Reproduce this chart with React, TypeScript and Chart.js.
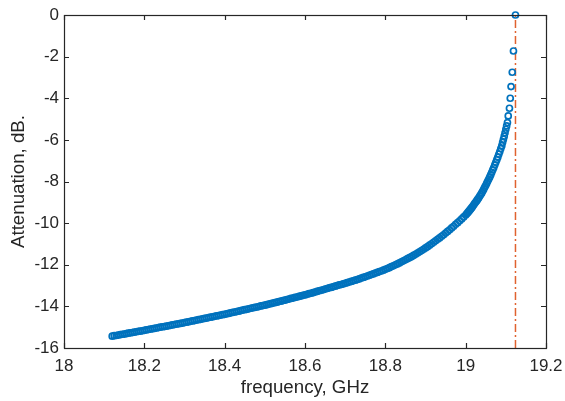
import { useEffect, useRef } from "react";
import { Chart, registerables } from "chart.js";

Chart.register(...registerables);

// frequency samples, GHz
const freqGHz = [
  18.120, 18.125, 18.130, 18.135, 18.140, 18.145, 18.150, 18.155, 18.160, 18.165,
  18.170, 18.175, 18.180, 18.185, 18.190, 18.195, 18.200, 18.205, 18.210, 18.215,
  18.220, 18.225, 18.230, 18.235, 18.240, 18.245, 18.250, 18.255, 18.260, 18.265,
  18.270, 18.275, 18.280, 18.285, 18.290, 18.295, 18.300, 18.305, 18.310, 18.315,
  18.320, 18.325, 18.330, 18.335, 18.340, 18.345, 18.350, 18.355, 18.360, 18.365,
  18.370, 18.375, 18.380, 18.385, 18.390, 18.395, 18.400, 18.405, 18.410, 18.415,
  18.420, 18.425, 18.430, 18.435, 18.440, 18.445, 18.450, 18.455, 18.460, 18.465,
  18.470, 18.475, 18.480, 18.485, 18.490, 18.495, 18.500, 18.505, 18.510, 18.515,
  18.520, 18.525, 18.530, 18.535, 18.540, 18.545, 18.550, 18.555, 18.560, 18.565,
  18.570, 18.575, 18.580, 18.585, 18.590, 18.595, 18.600, 18.605, 18.610, 18.615,
  18.620, 18.625, 18.630, 18.635, 18.640, 18.645, 18.650, 18.655, 18.660, 18.665,
  18.670, 18.675, 18.680, 18.685, 18.690, 18.695, 18.700, 18.705, 18.710, 18.715,
  18.720, 18.725, 18.730, 18.735, 18.740, 18.745, 18.750, 18.755, 18.760, 18.765,
  18.770, 18.775, 18.780, 18.785, 18.790, 18.795, 18.800, 18.805, 18.810, 18.815,
  18.820, 18.825, 18.830, 18.835, 18.840, 18.845, 18.850, 18.855, 18.860, 18.865,
  18.870, 18.875, 18.880, 18.885, 18.890, 18.895, 18.900, 18.905, 18.910, 18.915,
  18.920, 18.925, 18.930, 18.935, 18.940, 18.945, 18.950, 18.955, 18.960, 18.965,
  18.970, 18.975, 18.980, 18.985, 18.990, 18.995, 19.000,
  19.0025, 19.005, 19.0075, 19.010, 19.0125, 19.015, 19.0175, 19.020,
  19.0225, 19.025, 19.0275, 19.030, 19.0325, 19.035, 19.0375, 19.040,
  19.0425, 19.045, 19.0475, 19.050, 19.0525, 19.055, 19.0575, 19.060,
  19.0625, 19.065, 19.0675, 19.070, 19.0725, 19.075, 19.0775, 19.080,
  19.0825, 19.085, 19.0875, 19.090,
  19.092, 19.094, 19.096, 19.098, 19.100, 19.102, 19.104, 19.106, 19.109, 19.111,
  19.113, 19.116, 19.119, 19.124,
];

// attenuation at each frequency, dB
const attenuationDb = [
  -15.43, -15.41, -15.40, -15.38, -15.36, -15.34, -15.33, -15.31, -15.29, -15.27,
  -15.26, -15.24, -15.22, -15.20, -15.19, -15.17, -15.15, -15.13, -15.11, -15.09,
  -15.08, -15.06, -15.04, -15.02, -15.00, -14.98, -14.97, -14.95, -14.93, -14.91,
  -14.89, -14.87, -14.85, -14.84, -14.82, -14.80, -14.78, -14.76, -14.74, -14.72,
  -14.70, -14.68, -14.66, -14.64, -14.62, -14.60, -14.58, -14.56, -14.54, -14.52,
  -14.50, -14.48, -14.46, -14.44, -14.42, -14.40, -14.38, -14.36, -14.34, -14.31,
  -14.29, -14.27, -14.25, -14.23, -14.20, -14.18, -14.16, -14.14, -14.12, -14.09,
  -14.07, -14.05, -14.03, -14.01, -13.98, -13.96, -13.94, -13.92, -13.89, -13.87,
  -13.84, -13.82, -13.80, -13.77, -13.75, -13.72, -13.70, -13.67, -13.65, -13.62,
  -13.60, -13.57, -13.55, -13.52, -13.50, -13.47, -13.45, -13.42, -13.39, -13.37,
  -13.34, -13.31, -13.28, -13.25, -13.23, -13.20, -13.17, -13.14, -13.11, -13.09,
  -13.06, -13.03, -13.00, -12.97, -12.95, -12.92, -12.89, -12.86, -12.83, -12.80,
  -12.77, -12.74, -12.71, -12.68, -12.64, -12.61, -12.58, -12.54, -12.51, -12.47,
  -12.44, -12.40, -12.37, -12.33, -12.30, -12.26, -12.22, -12.18, -12.14, -12.09,
  -12.05, -12.00, -11.96, -11.91, -11.86, -11.81, -11.76, -11.71, -11.66, -11.61,
  -11.55, -11.50, -11.44, -11.38, -11.32, -11.26, -11.19, -11.13, -11.06, -10.99,
  -10.92, -10.85, -10.78, -10.71, -10.63, -10.56, -10.48, -10.40, -10.32, -10.23,
  -10.15, -10.06, -9.98, -9.89, -9.80, -9.70, -9.61,
  -9.55, -9.50, -9.44, -9.38, -9.32, -9.26, -9.19, -9.12,
  -9.05, -8.99, -8.92, -8.85, -8.78, -8.70, -8.63, -8.55,
  -8.46, -8.37, -8.27, -8.18, -8.08, -7.98, -7.88, -7.78,
  -7.67, -7.56, -7.44, -7.33, -7.20, -7.08, -6.95, -6.83,
  -6.69, -6.56, -6.42, -6.28,
  -6.12, -5.97, -5.82, -5.66, -5.49, -5.33, -5.17, -4.85, -4.48, -4.00,
  -3.44, -2.75, -1.73, 0,
];

// vertical reference line
const cutoffGHz = 19.124;
const cutoffSpanDb = [-16, 0];

const xTickLabels = ["18", "18.2", "18.4", "18.6", "18.8", "19", "19.2"];
const yTickLabels = ["-16", "-14", "-12", "-10", "-8", "-6", "-4", "-2", "0"];

const AXIS = "#262626";
const FONT = "'Liberation Sans', Arial, Helvetica, sans-serif";
const TICK_SIZE = 17;
const LABEL_SIZE = 18.7;

const boxPlugin = {
  id: "matlabBox",
  afterDatasetsDraw(chart: any) {
    const { ctx, chartArea: a, scales } = chart;
    const tl = 5;
    ctx.save();
    ctx.strokeStyle = AXIS;
    ctx.lineWidth = 1.2;
    ctx.beginPath();
    scales.x.ticks.forEach((t: any) => {
      const px = Math.round(scales.x.getPixelForValue(t.value)) + 0.5;
      ctx.moveTo(px, a.bottom);
      ctx.lineTo(px, a.bottom - tl);
      ctx.moveTo(px, a.top);
      ctx.lineTo(px, a.top + tl);
    });
    scales.y.ticks.forEach((t: any) => {
      const py = Math.round(scales.y.getPixelForValue(t.value)) + 0.5;
      ctx.moveTo(a.left, py);
      ctx.lineTo(a.left + tl, py);
      ctx.moveTo(a.right, py);
      ctx.lineTo(a.right - tl, py);
    });
    ctx.stroke();
    ctx.strokeRect(Math.round(a.left) + 0.5, Math.round(a.top) + 0.5, Math.round(a.width), Math.round(a.height));
    ctx.restore();
  },
};

export default function App() {
  const ref = useRef<HTMLCanvasElement | null>(null);

  useEffect(() => {
    if (!ref.current) return;
    const points = freqGHz.map((f, i) => ({ x: f, y: attenuationDb[i] }));
    const cutoff = cutoffSpanDb.map((v) => ({ x: cutoffGHz, y: v }));
    const chart = new Chart(ref.current, {
      type: "scatter",
      data: {
        datasets: [
          {
            data: points,
            showLine: false,
            pointStyle: "circle",
            pointRadius: 3,
            pointBorderWidth: 1.7,
            borderColor: "#0072BD",
            backgroundColor: "rgba(0,0,0,0)",
            pointBackgroundColor: "rgba(0,0,0,0)",
            pointBorderColor: "#0072BD",
            clip: false,
          } as any,
          {
            type: "line",
            data: cutoff,
            borderColor: "#E0622F",
            borderWidth: 1.5,
            borderDash: [8, 3, 2, 3],
            pointRadius: 0,
            fill: false,
          } as any,
        ],
      },
      options: {
        animation: false,
        responsive: false,
        events: [],
        layout: { padding: { top: 15, right: 19, left: 0, bottom: 0 } },
        plugins: { legend: { display: false }, tooltip: { enabled: false } },
        scales: {
          x: {
            type: "linear",
            min: 18,
            max: 19.2,
            afterFit: (s: any) => {
              s.height = 53;
              s.paddingLeft = 0;
              s.paddingRight = 0;
            },
            grid: { display: false, drawTicks: false },
            border: { display: false },
            ticks: {
              stepSize: 0.2,
              autoSkip: false,
              maxRotation: 0,
              padding: 8,
              color: AXIS,
              font: { family: FONT, size: TICK_SIZE },
              callback: (v: any, i: number) => xTickLabels[i] ?? String(v),
            },
            title: {
              display: true,
              text: "frequency, GHz",
              color: AXIS,
              font: { family: FONT, size: LABEL_SIZE },
              padding: { top: 0, bottom: 2 },
            },
          },
          y: {
            type: "linear",
            min: -16,
            max: 0,
            afterFit: (s: any) => {
              s.width = 64;
              s.paddingTop = 0;
              s.paddingBottom = 0;
            },
            grid: { display: false, drawTicks: false },
            border: { display: false },
            ticks: {
              stepSize: 2,
              autoSkip: false,
              padding: 5,
              color: AXIS,
              font: { family: FONT, size: TICK_SIZE },
              callback: (v: any, i: number) => yTickLabels[i] ?? String(v),
            },
            title: {
              display: true,
              text: "Attenuation, dB.",
              color: AXIS,
              font: { family: FONT, size: LABEL_SIZE },
              padding: { top: 7.3, bottom: 0 },
            },
          },
        },
      },
      plugins: [boxPlugin],
    });
    return () => chart.destroy();
  }, []);

  return (
    <div style={{ position: "fixed", left: 0, top: 0, width: 565, height: 401, background: "#fff" }}>
      <canvas ref={ref} width={565} height={401} style={{ display: "block" }} />
    </div>
  );
}
